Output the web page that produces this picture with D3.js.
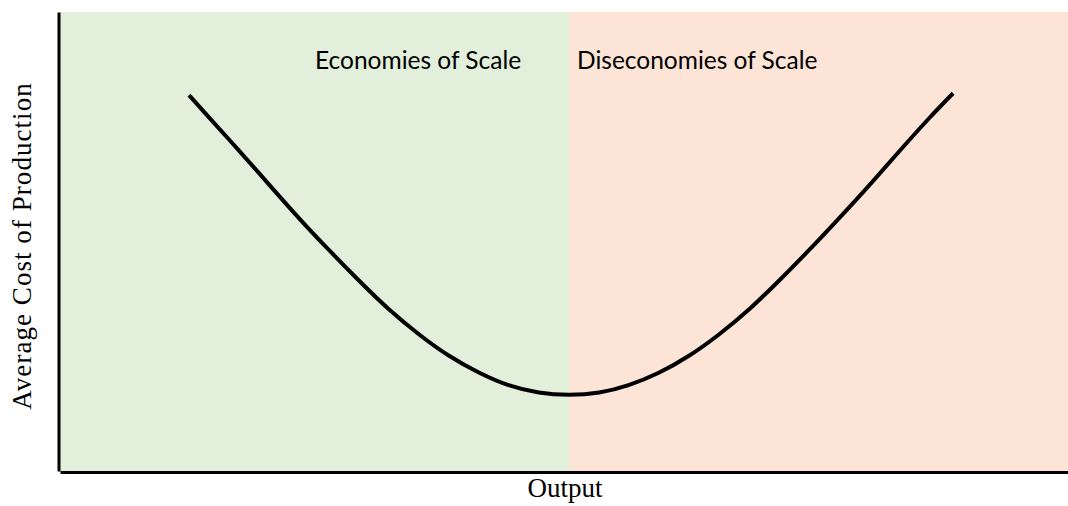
<!DOCTYPE html>
<html>
<head>
<meta charset="utf-8">
<script src="https://cdn.jsdelivr.net/npm/d3@7"></script>
<style>
  body { margin: 0; background: #fff; }
  svg { display: block; }
</style>
</head>
<body>
<div id="chart"></div>
<script>
  // curve (output, average cost), both on a 0-100 scale
  const outputValues = [12.8, 14.8, 17.8, 20.7, 23.7, 26.7, 29.7, 32.6, 35.6, 38.6, 41.6, 44.5, 47.5, 50.5,
                        53.5, 56.4, 59.4, 62.4, 65.4, 68.4, 71.3, 74.3, 77.3, 80.3, 83.2, 86.2, 88.6];
  const costValues   = [81.9, 77.0, 69.7, 62.5, 55.1, 48.1, 41.4, 35.3, 29.8, 25.1, 21.4, 18.7, 17.1, 16.6,
                        17.1, 18.7, 21.4, 25.1, 29.8, 35.3, 41.4, 48.1, 55.1, 62.3, 69.5, 76.8, 82.3];
  const regionNames = ["Economies of Scale", "Diseconomies of Scale"];
  const regionStarts = [0, 50.5];
  const regionEnds = [50.5, 100];
  const regionColors = ["#e2efda", "#fce4d6"];

  const width = 1068;
  const height = 506;
  const margin = { top: 12, right: 0, bottom: 35, left: 60 };

  const svg = d3.select("#chart")
    .append("svg")
    .attr("width", width)
    .attr("height", height);

  const xScale = d3.scaleLinear()
    .domain([0, 100])
    .range([margin.left, width - margin.right]);
  const yScale = d3.scaleLinear()
    .domain([0, 100])
    .range([height - margin.bottom, margin.top]);

  const regions = regionNames.map((name, i) => ({
    name: name,
    start: regionStarts[i],
    end: regionEnds[i],
    color: regionColors[i]
  }));

  svg.selectAll("rect.region")
    .data(regions)
    .enter()
    .append("rect")
    .attr("class", "region")
    .attr("x", d => xScale(d.start))
    .attr("width", d => xScale(d.end) - xScale(d.start))
    .attr("y", yScale(100))
    .attr("height", yScale(0) - yScale(100))
    .attr("fill", d => d.color);

  // region labels
  const labelX = [315, 577];
  svg.selectAll("text.region-label")
    .data(regions)
    .enter()
    .append("text")
    .attr("class", "region-label")
    .attr("x", (d, i) => labelX[i])
    .attr("y", 69)
    .attr("font-family", "Lato, 'Open Sans', sans-serif")
    .attr("font-size", 24.5)
    .attr("fill", "#000")
    .text(d => d.name);

  const points = outputValues.map((x, i) => ({ x: x, y: costValues[i] }));
  svg.append("path")
    .datum(points)
    .attr("fill", "none")
    .attr("stroke", "#000")
    .attr("stroke-width", 4)
    .attr("d", d3.line()
      .x(d => xScale(d.x))
      .y(d => yScale(d.y))
      .curve(d3.curveNatural)
    );

  const xAxis = d3.axisBottom(xScale).ticks(0).tickSizeOuter(0);
  const yAxis = d3.axisLeft(yScale).ticks(0).tickSizeOuter(0);
  svg.append("g")
    .attr("transform", `translate(0, ${yScale(0) + 1})`)
    .call(xAxis)
    .select(".domain")
    .attr("stroke", "#000")
    .attr("stroke-width", 3);
  svg.append("g")
    .attr("transform", `translate(${xScale(0) - 1.5}, 0)`)
    .call(yAxis)
    .select(".domain")
    .attr("stroke", "#000")
    .attr("stroke-width", 3);

  svg.append("text")
    .attr("x", (xScale(0) + xScale(100)) / 2 + 1)
    .attr("y", 497)
    .attr("text-anchor", "middle")
    .attr("font-family", "'Liberation Serif', 'Times New Roman', serif")
    .attr("font-size", 27)
    .text("Output");

  svg.append("text")
    .attr("transform", "translate(31, 246) rotate(-90)")
    .attr("text-anchor", "middle")
    .attr("font-family", "'Liberation Serif', 'Times New Roman', serif")
    .attr("font-size", 27)
    .attr("letter-spacing", 1.05)
    .text("Average Cost of Production");
</script>
</body>
</html>
